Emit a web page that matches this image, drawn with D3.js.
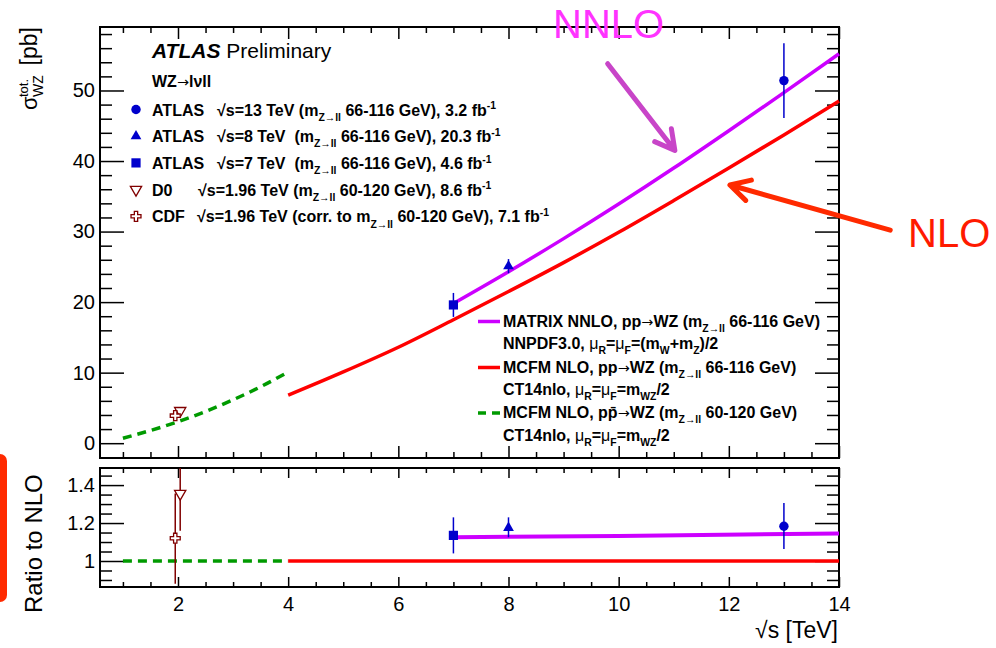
<!DOCTYPE html>
<html>
<head>
<meta charset="utf-8">
<script src="https://cdn.jsdelivr.net/npm/d3@7"></script>
<style>
  body { margin: 0; background: #fff; }
  text { font-family: "Liberation Sans", Arial, sans-serif; white-space: pre; }
  .tick line { stroke: #000; stroke-width: 1.5; }
</style>
</head>
<body>
<svg width="996" height="648"></svg>
<script>
// theory curves, sigma [pb] vs sqrt(s) [TeV]
const nloX  = [4, 5, 6, 7, 8, 9, 10, 11, 12, 13, 14];
const nloY  = [6.8, 10.1, 13.6, 17.5, 21.5, 25.6, 29.9, 34.4, 39.0, 43.7, 48.5];
const nnloX = [7, 8, 9, 10, 11, 12, 13, 14];
const nnloY = [19.8, 24.3, 29.0, 33.9, 39.0, 44.3, 49.7, 55.2];
const tevX  = [1, 1.5, 2, 2.5, 3, 3.5, 4];
const tevY  = [0.7, 1.8, 3.05, 4.5, 6.15, 8.0, 10.1];
// ratio panel
const nnloRatioX = [7, 10, 14];
const nnloRatioY = [1.125, 1.132, 1.145];
const nloRatioX = [4, 14];
const tevRatioX = [1, 4];
// measurements: ATLAS 13, ATLAS 8, ATLAS 7, D0, CDF
const measX     = [13, 8, 7, 2.04, 1.95];
const measY     = [51.4, 25.1, 19.6, 4.6, 3.9];
const measErr   = [5.3, 1.0, 1.7, 0.4, 0.4];
const ratioY    = [1.183, 1.175, 1.135, 1.355, 1.12];
const ratioLo   = [1.063, 1.125, 1.04, 1.16, 0.88];
const ratioHi   = [1.305, 1.23, 1.23, 1.6, 1.355];
const measShape = ["circle", "triangle", "square", "tridown", "cross"];
// axis ticks
const xMajor = [2, 4, 6, 8, 10, 12, 14];
const yMajor = [0, 10, 20, 30, 40, 50];
const rMajor = [1, 1.2, 1.4];

const blue = "#0000cc", brown = "#800000";
const magenta = "#cc00ff", red = "#ff0000", green = "#009a00";

const svg = d3.select("svg");
const L = 100, R = 839, T1 = 27, B1 = 458, T2 = 468, B2 = 587;

const x  = d3.scaleLinear().domain([0.584, 14]).range([L, R]);
const y  = d3.scaleLinear().domain([-2.1, 59]).range([B1, T1]);
const yr = d3.scaleLinear().domain([0.863, 1.49]).range([B2, T2]);

svg.append("defs").append("clipPath").attr("id", "clipR")
  .append("rect").attr("x", L).attr("y", T2).attr("width", R - L).attr("height", B2 - T2);

function tickAxis(axis, tr, values, size, fmt, pad) {
  const g = svg.append("g").attr("transform", tr)
    .call(axis.tickValues(values).tickSize(-size).tickPadding(pad || 4).tickFormat(fmt || ""));
  g.select(".domain").remove();
  g.selectAll("text").attr("font-size", 20).attr("fill", "#000")
    .attr("font-family", "Liberation Sans, Arial, sans-serif");
  return g;
}

// ---- main panel ticks
const xMinor = d3.range(1, 14.01, 0.5).filter(v => v % 2 !== 0);
tickAxis(d3.axisBottom(x), `translate(0,${B1})`, xMajor, 12);
tickAxis(d3.axisBottom(x), `translate(0,${B1})`, xMinor, 6);
tickAxis(d3.axisTop(x), `translate(0,${T1})`, xMajor, 12);
tickAxis(d3.axisTop(x), `translate(0,${T1})`, xMinor, 6);
const yMinor = d3.range(-2, 59, 2).filter(v => v % 10 !== 0);
tickAxis(d3.axisLeft(y), `translate(${L},0)`, yMajor, 24, d3.format("d"), 5);
tickAxis(d3.axisLeft(y), `translate(${L},0)`, yMinor, 12);
tickAxis(d3.axisRight(y), `translate(${R},0)`, yMajor, 24);
tickAxis(d3.axisRight(y), `translate(${R},0)`, yMinor, 12);

// ---- ratio panel ticks
tickAxis(d3.axisBottom(x), `translate(0,${B2})`, xMajor, 10, d3.format("d"), 10);
tickAxis(d3.axisBottom(x), `translate(0,${B2})`, xMinor, 5);
tickAxis(d3.axisTop(x), `translate(0,${T2})`, xMajor, 10);
tickAxis(d3.axisTop(x), `translate(0,${T2})`, xMinor, 5);
const rMinor = d3.range(0.9, 1.46, 0.05).filter(v => !rMajor.some(m => Math.abs(m - v) < 1e-6));
tickAxis(d3.axisLeft(yr), `translate(${L},0)`, rMajor, 24, d => d3.format("~g")(d), 5);
tickAxis(d3.axisLeft(yr), `translate(${L},0)`, rMinor, 12);
tickAxis(d3.axisRight(yr), `translate(${R},0)`, rMajor, 24);
tickAxis(d3.axisRight(yr), `translate(${R},0)`, rMinor, 12);

// frames
[[T1, B1], [T2, B2]].forEach(([t, b]) =>
  svg.append("rect").attr("x", L).attr("y", t).attr("width", R - L).attr("height", b - t)
    .attr("fill", "none").attr("stroke", "#000").attr("stroke-width", 2));

// ---- theory curves
const line = (sx, sy) => d3.line().x(d => sx(d[0])).y(d => sy(d[1])).curve(d3.curveMonotoneX);
const drawCurve = (g, data, sy, col, dash, w) => g.append("path").datum(data)
  .attr("d", line(x, sy)).attr("fill", "none").attr("stroke", col)
  .attr("stroke-width", w || 3.5).attr("stroke-dasharray", dash || null);

const main = svg.append("g");
drawCurve(main, d3.zip(tevX, tevY), y, green, "9,6");
drawCurve(main, d3.zip(nloX, nloY), y, red);
drawCurve(main, d3.zip(nnloX, nnloY), y, magenta);

const ratio = svg.append("g").attr("clip-path", "url(#clipR)");
drawCurve(ratio, tevRatioX.map(v => [v, 1]), yr, green, "9,6");
drawCurve(ratio, nloRatioX.map(v => [v, 1]), yr, red);
drawCurve(ratio, d3.zip(nnloRatioX, nnloRatioY), yr, magenta, null, 4);

// ---- markers
function marker(g, shape, cx, cy, col) {
  const map = { circle: [d3.symbolCircle, 70], triangle: [d3.symbolTriangle, 50],
                square: [d3.symbolSquare, 85], tridown: [d3.symbolTriangle, 55],
                cross: [d3.symbolCross, 55] };
  const [type, size] = map[shape];
  const open = shape === "tridown" || shape === "cross";
  g.append("path").attr("d", d3.symbol().type(type).size(size)())
    .attr("transform", `translate(${cx},${cy})` + (shape === "tridown" ? " rotate(180)" : ""))
    .attr("fill", open ? "#fff" : col).attr("stroke", col).attr("stroke-width", open ? 1.3 : 0);
}

measX.forEach((mx, i) => {
  const col = i < 3 ? blue : brown;
  main.append("line").attr("x1", x(mx)).attr("x2", x(mx))
    .attr("y1", y(measY[i] - measErr[i])).attr("y2", y(measY[i] + measErr[i]))
    .attr("stroke", col).attr("stroke-width", 1.5);
  marker(main, measShape[i], x(mx), y(measY[i]), col);
  ratio.append("line").attr("x1", x(mx)).attr("x2", x(mx))
    .attr("y1", yr(ratioLo[i])).attr("y2", yr(ratioHi[i]))
    .attr("stroke", col).attr("stroke-width", 1.5);
  marker(ratio, measShape[i], x(mx), yr(ratioY[i]), col);
});

// ---- rich text helper (sub/superscripts, wider arrow glyph in body text)
function rich(x0, y0, parts, size, weight, g) {
  const t = (g || svg).append("text").attr("x", x0).attr("y", y0)
    .attr("font-size", size).attr("font-weight", weight || "normal").attr("fill", "#000");
  let shift = 0;
  parts.forEach(([s, kind, px]) => {
    const target = kind === "sub" ? size * 0.33 : kind === "sup" ? -size * 0.4 : 0;
    const pieces = (kind === "sub" || kind === "sup") ? [s] : s.split(/(→)/).filter(q => q !== "");
    pieces.forEach((q, j) => {
      const ts = t.append("tspan").text(q);
      if (j === 0) {
        if (px !== undefined) ts.attr("x", px);
        ts.attr("dy", target - shift);
        shift = target;
      }
      if (kind === "sub" || kind === "sup") ts.attr("font-size", size * 0.65);
      if (kind === "sym") ts.attr("font-weight", "normal");
      if (q === "→") ts.attr("font-family", "DejaVu Sans").attr("font-weight", "normal")
        .attr("font-size", size * 0.9);
    });
  });
  return t;
}

// ---- top-left legend
const t0 = svg.append("text").attr("x", 152).attr("y", 58).attr("font-size", 21);
t0.append("tspan").text("ATLAS").attr("font-weight", "bold").attr("font-style", "italic");
t0.append("tspan").text(" Preliminary");
rich(152, 86.5, [["WZ→lνll"]], 16, "bold");

const legRows = [
  [["ATLAS"], ["√s=13 TeV (m", "", 217], ["Z→ll", "sub"], [" 66-116 GeV), 3.2 fb"], ["-1", "sup"]],
  [["ATLAS"], ["√s=8 TeV  (m", "", 217], ["Z→ll", "sub"], [" 66-116 GeV), 20.3 fb"], ["-1", "sup"]],
  [["ATLAS"], ["√s=7 TeV  (m", "", 217], ["Z→ll", "sub"], [" 66-116 GeV), 4.6 fb"], ["-1", "sup"]],
  [["D0"], ["√s=1.96 TeV (m", "", 198], ["Z→ll", "sub"], [" 60-120 GeV), 8.6 fb"], ["-1", "sup"]],
  [["CDF"], ["√s=1.96 TeV (corr. to m", "", 197], ["Z→ll", "sub"], [" 60-120 GeV), 7.1 fb"], ["-1", "sup"]]
];
legRows.forEach((row, i) => {
  const by = 115.5 + i * 26.7;
  marker(svg, measShape[i], 136, by - 6, i < 3 ? blue : brown);
  rich(152, by, row, 16, "bold");
});

// ---- right legend
const muRow = [["CT14nlo, "], ["μ", "sym"], ["R", "sub"], ["="], ["μ", "sym"], ["F", "sub"], ["=m"], ["WZ", "sub"], ["/2"]];
const legTheory = [
  { col: magenta, dash: null, base: 326.5,
    l1: [["MATRIX NNLO, pp→WZ (m"], ["Z→ll", "sub"], [" 66-116 GeV)"]],
    l2: [["NNPDF3.0, "], ["μ", "sym"], ["R", "sub"], ["="], ["μ", "sym"], ["F", "sub"], ["=(m"], ["W", "sub"], ["+m"], ["Z", "sub"], [")/2"]] },
  { col: red, dash: null, base: 372.5,
    l1: [["MCFM NLO, pp→WZ (m"], ["Z→ll", "sub"], [" 66-116 GeV)"]], l2: muRow },
  { col: green, dash: "8,6", base: 418,
    l1: [["MCFM NLO, pp\u0304→WZ (m"], ["Z→ll", "sub"], [" 60-120 GeV)"]], l2: muRow }
];
legTheory.forEach(e => {
  svg.append("line").attr("x1", 478).attr("x2", 500).attr("y1", e.base - 5).attr("y2", e.base - 5)
    .attr("stroke", e.col).attr("stroke-width", 3.5).attr("stroke-dasharray", e.dash);
  rich(503, e.base, e.l1, 16, "bold");
  rich(503, e.base + 22.5, e.l2, 16, "bold");
});

// ---- axis titles
const yt = svg.append("g").attr("transform", "translate(37,110) rotate(-90)");
yt.append("text").attr("x", 0).attr("y", 0).attr("font-size", 22).text("σ");
yt.append("text").attr("x", 13).attr("y", -9).attr("font-size", 13).text("tot.");
yt.append("text").attr("x", 13).attr("y", 6).attr("font-size", 14).text("WZ");
yt.append("text").attr("x", 83).attr("y", 0).attr("font-size", 23).attr("text-anchor", "end").text("[pb]");

svg.append("text").attr("transform", "translate(42,613) rotate(-90)")
  .attr("font-size", 24).text("Ratio to NLO");
svg.append("text").attr("x", 838).attr("y", 638).attr("font-size", 23)
  .attr("text-anchor", "end").text("√s [TeV]");

// ---- slide annotations
svg.append("rect").attr("x", -50).attr("y", 454).attr("width", 57).attr("height", 148)
  .attr("rx", 7).attr("fill", "#ff2a00");

const annos = [
  { label: "NNLO", tx: 553, ty: 38, col: "#ff33ff", arrowCol: "#c845c8", from: [9.8, 53.8], to: [11.02, 41.5] },
  { label: "NLO", tx: 908, ty: 247, col: "#ff1a00", arrowCol: "#ff2a00", from: [14.93, 30.2], to: [12.02, 36.6] }
];
annos.forEach(a => {
  svg.append("text").attr("x", a.tx).attr("y", a.ty).attr("font-family", "Lato, sans-serif")
    .attr("font-size", 40).attr("fill", a.col).text(a.label);
  const x1 = x(a.from[0]), y1 = y(a.from[1]), x2 = x(a.to[0]), y2 = y(a.to[1]);
  const ang = Math.atan2(y1 - y2, x1 - x2), hl = 22, ha = 0.5;
  const p = d3.path();
  p.moveTo(x1, y1); p.lineTo(x2, y2);
  p.moveTo(x2 + hl * Math.cos(ang + ha), y2 + hl * Math.sin(ang + ha));
  p.lineTo(x2, y2);
  p.lineTo(x2 + hl * Math.cos(ang - ha), y2 + hl * Math.sin(ang - ha));
  svg.append("path").attr("d", p.toString()).attr("fill", "none").attr("stroke", a.arrowCol)
    .attr("stroke-width", 5).attr("stroke-linecap", "round").attr("stroke-linejoin", "round");
});
</script>
</body>
</html>
